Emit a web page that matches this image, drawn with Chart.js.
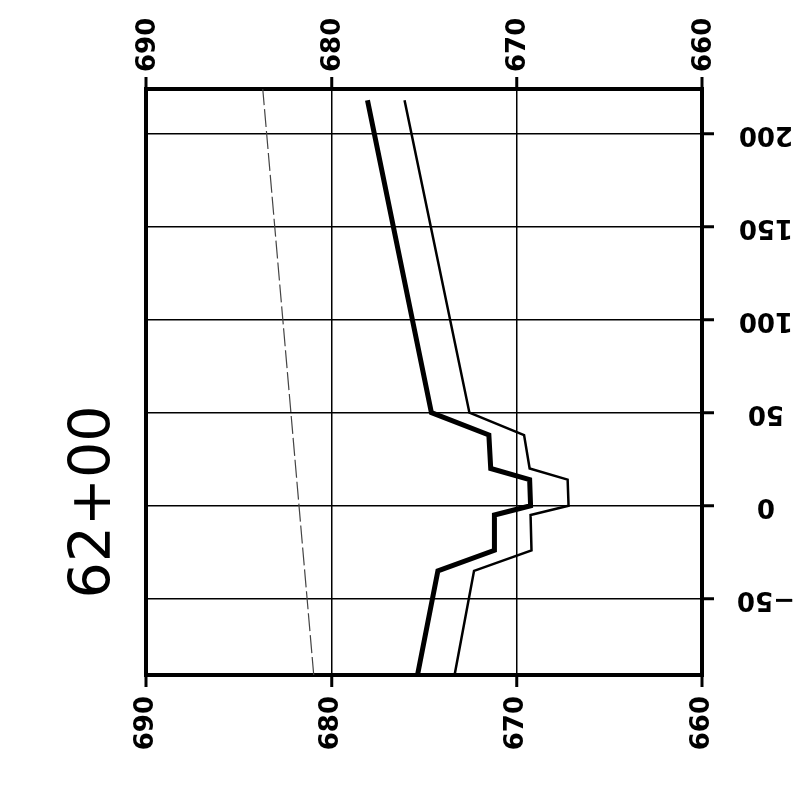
<!DOCTYPE html>
<html>
<head>
<meta charset="utf-8">
<title>62+00</title>
<script src="https://cdn.jsdelivr.net/npm/chart.js@4.4.1/dist/chart.umd.min.js"></script>
<style>
    html, body { margin: 0; padding: 0; background: #fff; }
    #wrap { width: 809px; height: 797px; position: relative; }
</style>
</head>
<body>
<div id="wrap"><canvas id="section"></canvas></div>
<script>
const stationLabel = '62+00';

// offset from centerline and elevation at each break point
const offsets = [-91, -35, -24, -5, 0, 14, 20, 38, 50, 218];
const groundElev = [675.35, 674.25, 671.2, 671.2, 669.25, 669.3, 671.4, 671.5, 674.6, 678.05];
const designElev = [673.35, 672.3, 669.2, 669.25, 667.2, 667.25, 669.3, 669.6, 672.55, 676.05];

const dashOffsets = [-91, 224];
const dashElev = [680.95, 683.7];

const elevTicks = [660, 670, 680, 690];
const offsetTicks = [-50, 0, 50, 100, 150, 200];

const tickFont = { family: 'DejaVu Sans', size: 26, weight: 'bold' };

function toPoints(xs, ys) {
    return xs.map((v, i) => ({ x: ys[i], y: v }));
}

function isEdge(c) {
    return c.tick && (c.tick.value === 660 || c.tick.value === 690);
}

const stationTitle = {
    id: 'stationTitle',
    afterDraw(chart) {
        const ctx = chart.ctx;
        ctx.save();
        ctx.translate(110, 502);
        ctx.rotate(-Math.PI / 2);
        ctx.font = '57px "DejaVu Sans"';
        ctx.fillStyle = '#000';
        ctx.textAlign = 'center';
        ctx.textBaseline = 'alphabetic';
        ctx.fillText(stationLabel, 0, 0);
        ctx.restore();
    }
};

const elevAxis = (position, height, padding, shift, onArea) => ({
    type: 'linear',
    position: position,
    min: 660,
    max: 690,
    reverse: true,
    afterBuildTicks: s => { s.ticks = elevTicks.map(v => ({ value: v })); },
    afterFit: s => { s.height = height; },
    ticks: {
        minRotation: 90,
        maxRotation: 90,
        padding: padding,
        labelOffset: shift,
        color: '#000',
        font: tickFont
    },
    grid: {
        drawOnChartArea: onArea,
        color: '#000',
        lineWidth: c => isEdge(c) ? 4 : 1.5,
        tickWidth: 3,
        tickLength: 12
    },
    border: { display: true, color: '#000', width: 4 }
});

new Chart(document.getElementById('section'), {
    type: 'scatter',
    data: {
        datasets: [
            {
                label: 'ground',
                data: toPoints(offsets, groundElev),
                showLine: true,
                borderColor: '#000',
                borderWidth: 5,
                pointRadius: 0,
                tension: 0
            },
            {
                label: 'design',
                data: toPoints(offsets, designElev),
                showLine: true,
                borderColor: '#000',
                borderWidth: 2.5,
                pointRadius: 0,
                tension: 0
            },
            {
                label: 'limit',
                data: toPoints(dashOffsets, dashElev),
                showLine: true,
                borderColor: '#444',
                borderWidth: 1.2,
                borderDash: [18, 4],
                pointRadius: 0,
                tension: 0
            }
        ]
    },
    options: {
        responsive: true,
        maintainAspectRatio: false,
        animation: false,
        layout: { padding: { left: 146, top: 0, right: 0, bottom: 0 } },
        plugins: {
            legend: { display: false },
            tooltip: { enabled: false }
        },
        scales: {
            x: elevAxis('bottom', 122, 9, 0, true),
            x2: elevAxis('top', 89, 5, 33, false),
            y: {
                type: 'linear',
                position: 'right',
                min: -91,
                max: 224,
                afterBuildTicks: s => { s.ticks = offsetTicks.map(v => ({ value: v })); },
                afterFit: s => { s.width = 107; },
                ticks: {
                    minRotation: 180,
                    maxRotation: 180,
                    crossAlign: 'center',
                    padding: 23,
                    color: '#000',
                    font: tickFont,
                    callback: v => v < 0 ? '\u2212' + Math.abs(v) : String(v)
                },
                grid: {
                    color: '#000',
                    lineWidth: 1.5,
                    tickWidth: 3,
                    tickLength: 12
                },
                border: { display: true, color: '#000', width: 4 }
            }
        }
    },
    plugins: [stationTitle]
});
</script>
</body>
</html>
